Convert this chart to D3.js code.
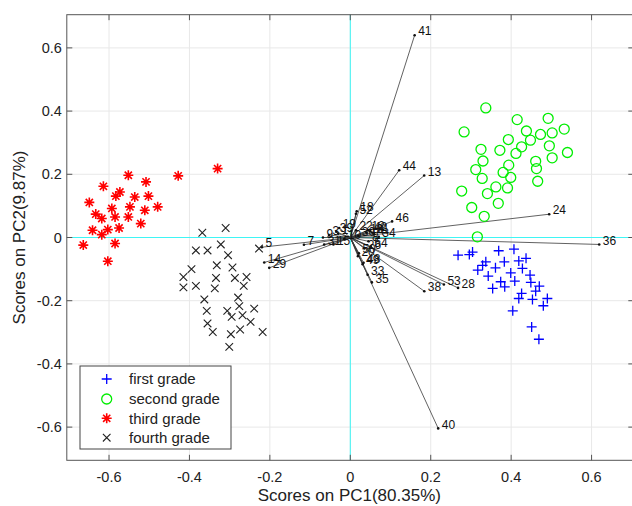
<!DOCTYPE html>
<html>
<head>
<meta charset="utf-8">
<script src="https://cdn.jsdelivr.net/npm/d3@7"></script>
<style>
html,body{margin:0;padding:0;background:#fff;}
svg{display:block;}
text{font-family:"Liberation Sans",Arial,Helvetica,sans-serif;}
</style>
</head>
<body>
<svg id="chart" width="632" height="506"></svg>
<script>
// ---- data ----
const xTicks = [-0.6,-0.4,-0.2,0,0.2,0.4,0.6];
const yTicks = [-0.6,-0.4,-0.2,0,0.2,0.4,0.6];
const xLabel = "Scores on PC1(80.35%)";
const yLabel = "Scores on PC2(9.87%)";
const groupNames = ["first grade","second grade","third grade","fourth grade"];

// first grade (blue +)
const g1x = [0.268,0.296,0.304,0.369,0.407,0.337,0.329,0.317,0.361,0.383,0.419,0.437,0.428,0.343,0.399,0.447,0.374,0.409,0.354,0.384,0.449,0.470,0.461,0.426,0.419,0.453,0.490,0.480,0.404,0.451,0.469];
const g1y = [-0.056,-0.054,-0.046,-0.042,-0.037,-0.077,-0.088,-0.103,-0.096,-0.077,-0.074,-0.066,-0.098,-0.122,-0.112,-0.119,-0.140,-0.138,-0.161,-0.156,-0.142,-0.154,-0.170,-0.177,-0.193,-0.196,-0.193,-0.216,-0.232,-0.283,-0.322];
// second grade (green o)
const g2x = [0.337,0.283,0.415,0.492,0.438,0.532,0.473,0.502,0.393,0.448,0.325,0.372,0.426,0.412,0.495,0.540,0.330,0.461,0.502,0.312,0.394,0.380,0.463,0.328,0.399,0.466,0.277,0.362,0.391,0.341,0.368,0.302,0.333,0.316];
const g2y = [0.410,0.334,0.373,0.377,0.337,0.343,0.326,0.331,0.310,0.308,0.279,0.276,0.287,0.266,0.290,0.269,0.242,0.241,0.252,0.215,0.229,0.206,0.218,0.187,0.190,0.178,0.147,0.160,0.157,0.139,0.108,0.095,0.067,0.002];
// third grade (red *)
const g3x = [-0.552,-0.508,-0.428,-0.330,-0.614,-0.573,-0.583,-0.536,-0.502,-0.649,-0.593,-0.548,-0.479,-0.511,-0.633,-0.618,-0.585,-0.552,-0.521,-0.641,-0.618,-0.603,-0.575,-0.664,-0.585,-0.603];
const g3y = [0.197,0.176,0.195,0.218,0.162,0.144,0.131,0.128,0.131,0.111,0.092,0.097,0.097,0.086,0.074,0.060,0.065,0.065,0.044,0.023,0.009,0.025,0.030,-0.024,-0.019,-0.075];
// fourth grade (black x)
const g4x = [-0.368,-0.310,-0.384,-0.355,-0.322,-0.304,-0.227,-0.395,-0.415,-0.332,-0.293,-0.415,-0.384,-0.334,-0.287,-0.258,-0.337,-0.265,-0.363,-0.279,-0.357,-0.276,-0.306,-0.295,-0.239,-0.268,-0.355,-0.248,-0.342,-0.297,-0.274,-0.218,-0.301];
const g4y = [0.015,0.030,-0.041,-0.041,-0.022,-0.056,-0.035,-0.100,-0.125,-0.088,-0.095,-0.158,-0.153,-0.128,-0.128,-0.125,-0.161,-0.153,-0.196,-0.190,-0.232,-0.217,-0.232,-0.251,-0.225,-0.246,-0.272,-0.267,-0.299,-0.306,-0.291,-0.299,-0.346];

// loading vectors (variable number, PC1, PC2)
const varNames = ["1","4","8","10","16","21","26","30","39","42",
  "9","3","31","15","19","22","12","34","54","50","20","48","49","33","35","18","52","46","44","13","41","24","36","38","53","28","40","5","7","14","29"];
const varPC1 = [-0.030,0.060,0.045,-0.015,0.040,0.055,0.035,0.020,-0.035,0.050,
  -0.068,-0.053,-0.065,-0.042,-0.0276,0.014,0.0438,0.071,0.051,0.0214,0.019,0.033,0.0306,0.043,0.0537,0.016,0.014,0.104,0.1216,0.1838,0.160,0.4946,0.619,0.184,0.2327,0.268,0.2186,-0.2198,-0.1153,-0.214,-0.2016];
const varPC2 = [0.012,0.010,-0.012,-0.005,0.015,0.015,-0.035,0.005,0.018,0.020,
  0.000,0.008,-0.022,-0.022,0.030,0.023,0.023,0.0025,-0.029,-0.0497,-0.059,-0.080,-0.0845,-0.118,-0.142,0.083,0.075,0.051,0.213,0.196,0.640,0.0737,-0.022,-0.170,-0.1487,-0.1595,-0.604,-0.0307,-0.0228,-0.079,-0.096];

// ---- drawing ----
const svg = d3.select("#chart");
const L = 66.8, R = 633.8, T = 14.7, B = 460.3;
const x = d3.scaleLinear().domain([-0.705,0.705]).range([L,R]);
const y = d3.scaleLinear().domain([-0.705,0.705]).range([B,T]);
const fmt = d => d === 0 ? "0" : d3.format(".1f")(d).replace("−","-");

// grid
const grid = svg.append("g");
grid.selectAll("line.gx").data(xTicks).join("line")
  .attr("x1",d=>x(d)).attr("x2",d=>x(d)).attr("y1",T).attr("y2",B)
  .attr("stroke","#e8e8e8").attr("stroke-width",1);
grid.selectAll("line.gy").data(yTicks).join("line")
  .attr("y1",d=>y(d)).attr("y2",d=>y(d)).attr("x1",L).attr("x2",R)
  .attr("stroke","#e8e8e8").attr("stroke-width",1);

// cyan zero lines
svg.append("line").attr("x1",x(0)).attr("x2",x(0)).attr("y1",T).attr("y2",B).attr("stroke","#3ff5f5").attr("stroke-width",1);
svg.append("line").attr("x1",L).attr("x2",R).attr("y1",y(0)).attr("y2",y(0)).attr("stroke","#3ff5f5").attr("stroke-width",1);

// vectors
const vec = varNames.map((n,i)=>({n, a:varPC1[i], b:varPC2[i]}));
const vg = svg.append("g");
vg.selectAll("line").data(vec).join("line")
  .attr("x1",x(0)).attr("y1",y(0)).attr("x2",d=>x(d.a)).attr("y2",d=>y(d.b))
  .attr("stroke","#3a3a3a").attr("stroke-width",0.8);
vg.selectAll("circle").data(vec).join("circle")
  .attr("cx",d=>x(d.a)).attr("cy",d=>y(d.b)).attr("r",1.3).attr("fill","#111");
vg.selectAll("text").data(vec).join("text")
  .attr("x",d=>x(d.a)+3.5).attr("y",d=>y(d.b)-4).attr("dy","0.35em")
  .attr("font-size",12).attr("fill","#111").text(d=>d.n);

// markers
const sym = {
  plus: "M-5,0H5M0,-5V5",
  x: "M-3.8,-3.8L3.8,3.8M-3.8,3.8L3.8,-3.8",
  star: "M-5,0H5M0,-5V5M-3.6,-3.6L3.6,3.6M-3.6,3.6L3.6,-3.6"
};
function drawMarker(g, type, color){
  if(type==="circle"){
    g.append("circle").attr("r",5).attr("fill","none").attr("stroke",color).attr("stroke-width",1.3);
  } else {
    g.append("path").attr("d",sym[type]).attr("fill","none").attr("stroke",color)
      .attr("stroke-width", type==="star"?1.6:(type==="x"?1.1:1.3));
  }
}
const groups = [
  {xs:g1x, ys:g1y, type:"plus", color:"#0000ff"},
  {xs:g2x, ys:g2y, type:"circle", color:"#00ee00"},
  {xs:g3x, ys:g3y, type:"star", color:"#ff0000"},
  {xs:g4x, ys:g4y, type:"x", color:"#222"}
];
const pg = svg.append("g");
groups.forEach(gr=>{
  gr.xs.forEach((v,i)=>{
    const g = pg.append("g").attr("transform",`translate(${x(v)},${y(gr.ys[i])})`);
    drawMarker(g, gr.type, gr.color);
  });
});

// axes box and ticks
const ax = svg.append("g");
ax.append("rect").attr("x",L).attr("y",T).attr("width",R-L).attr("height",B-T)
  .attr("fill","none").attr("stroke","#555").attr("stroke-width",1);
const tl = 5.5;
xTicks.forEach(t=>{
  ax.append("line").attr("x1",x(t)).attr("x2",x(t)).attr("y1",B).attr("y2",B-tl).attr("stroke","#555");
  ax.append("line").attr("x1",x(t)).attr("x2",x(t)).attr("y1",T).attr("y2",T+tl).attr("stroke","#555");
  ax.append("text").attr("x",x(t)).attr("y",B+17).attr("dy","0.35em").attr("text-anchor","middle")
    .attr("font-size",14.5).attr("fill","#222").text(fmt(t));
});
yTicks.forEach(t=>{
  ax.append("line").attr("x1",L).attr("x2",L+tl).attr("y1",y(t)).attr("y2",y(t)).attr("stroke","#555");
  ax.append("line").attr("x1",R).attr("x2",R-tl).attr("y1",y(t)).attr("y2",y(t)).attr("stroke","#555");
  ax.append("text").attr("x",L-5).attr("y",y(t)).attr("dy","0.35em").attr("text-anchor","end")
    .attr("font-size",14.5).attr("fill","#222").text(fmt(t));
});
svg.append("text").attr("x",(L+R)/2-1).attr("y",501).attr("text-anchor","middle")
  .attr("font-size",17).attr("fill","#222").text(xLabel);
svg.append("text").attr("transform",`translate(25,${(T+B)/2}) rotate(-90)`).attr("text-anchor","middle")
  .attr("font-size",17).attr("fill","#222").text(yLabel);

// legend
const lg = svg.append("g");
lg.append("rect").attr("x",80).attr("y",366).attr("width",151).attr("height",83)
  .attr("fill","#fff").attr("stroke","#444").attr("stroke-width",1);
const rowY = [379,399,418.3,437.7];
groupNames.forEach((n,i)=>{
  const g = lg.append("g").attr("transform",`translate(106.7,${rowY[i]})`);
  drawMarker(g, groups[i].type, groups[i].color);
  lg.append("text").attr("x",129).attr("y",rowY[i]).attr("dy","0.35em")
    .attr("font-size",15).attr("fill","#222").text(n);
});
</script>
</body>
</html>
